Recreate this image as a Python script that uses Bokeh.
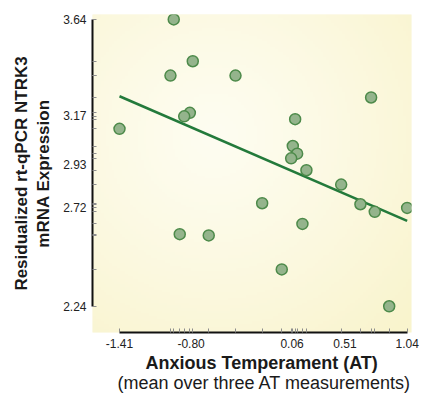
import numpy as np
from bokeh.plotting import figure
from bokeh.models import Range1d, FixedTicker, PrintfTickFormatter, LinearAxis, Title
from bokeh.embed import file_html
from bokeh.resources import INLINE

# ---- data ----
at_scores = [-0.948, -0.786, -0.976, -0.811, -0.859, -1.41, -0.422, 0.733,
             0.086, 0.066, 0.103, 0.052, 0.182, 0.478, -0.195, 0.642,
             0.764, 1.04, 0.148, -0.650, -0.028, 0.887, -0.897]
ntrk3_expr = [3.64, 3.436, 3.366, 3.184, 3.167, 3.106, 3.366, 3.259,
              3.153, 3.022, 2.985, 2.962, 2.904, 2.834, 2.743, 2.738,
              2.701, 2.720, 2.642, 2.586, 2.420, 2.24, 2.592]
x_ticks = [-1.41, -0.80, 0.06, 0.51, 1.04]
y_ticks = [2.24, 2.72, 2.93, 3.17, 3.64]
fit_x = [-1.41, 1.04]
fit_y = [3.265, 2.657]
x_title = ["Anxious Temperament (AT)", "(mean over three AT measurements)"]
y_title = ["Residualized rt-qPCR NTRK3", "mRNA Expression"]

x0, x1 = -1.640, 1.077
y0, y1 = 2.112, 3.664

p = figure(width=421, height=394, x_range=Range1d(x0, x1), y_range=Range1d(y0, y1),
           output_backend="svg", toolbar_location=None,
           min_border_left=92, min_border_right=10, min_border_top=14, min_border_bottom=61,
           background_fill_color="#fbf8dc", border_fill_color="white",
           outline_line_color=None)
p.grid.visible = False

# subtle radial background shading
ny, nx = 120, 120
gy, gx = np.mgrid[0:1:ny * 1j, 0:1:nx * 1j]
r = np.sqrt(((gx - 0.38) / 0.85) ** 2 + ((gy - 0.62) / 0.85) ** 2)
t = np.clip(r, 0, 1) ** 1.2
inner = np.array([254, 253, 241], dtype=float)
outer = np.array([249, 244, 205], dtype=float)
rgb = inner + (outer - inner) * t[..., None]
img = np.empty((ny, nx), dtype=np.uint32)
view = img.view(dtype=np.uint8).reshape((ny, nx, 4))
view[..., 0:3] = rgb.astype(np.uint8)
view[..., 3] = 255
p.image_rgba(image=[img], x=x0, y=y0, dw=x1 - x0, dh=y1 - y0)

p.line(fit_x, fit_y, line_color="#237a3b", line_width=2.5)
p.scatter(at_scores, ntrk3_expr, size=11, fill_color="#94b48c",
          line_color="#4d8a4a", line_width=1.5)

title_style = dict(axis_label_text_font="Liberation Sans", axis_label_text_color="#1a1a1a",
                   axis_label_text_font_style="bold", axis_label_text_font_size="17px")

for ax, ticks, data in ((p.xaxis[0], x_ticks, at_scores), (p.yaxis[0], y_ticks, ntrk3_expr)):
    ax.ticker = FixedTicker(ticks=ticks, minor_ticks=data)
    ax.bounds = (ticks[0], ticks[-1])
    ax.formatter = PrintfTickFormatter(format="%.2f")
    ax.axis_line_width = 2
    ax.axis_line_color = "#111111"
    ax.major_tick_in = 0
    ax.major_tick_out = 0
    ax.minor_tick_in = 4
    ax.minor_tick_out = 0
    ax.minor_tick_line_color = "#8c8c8c"
    ax.major_label_text_font = "Liberation Sans"
    ax.major_label_text_font_size = "12px"
    ax.major_label_text_color = "#222222"
    ax.update(**title_style)

p.xaxis[0].major_label_standoff = 6
p.yaxis[0].major_label_standoff = 6
p.yaxis[0].axis_label = y_title[1]
p.yaxis[0].axis_label_standoff = 7

# x-axis titles: two lines, bold then regular, placed right of the frame centre
p.add_layout(Title(text=x_title[0], align="left", offset=53, standoff=0,
                   text_font="Liberation Sans", text_font_size="18px",
                   text_font_style="bold", text_color="#1a1a1a"), "below")
p.add_layout(Title(text=x_title[1], align="left", offset=25, standoff=0,
                   vertical_align="top",
                   text_font="Liberation Sans", text_font_size="18px",
                   text_font_style="normal", text_color="#1a1a1a"), "below")

y_title_axis = LinearAxis(ticker=FixedTicker(ticks=[]), axis_label=y_title[0],
                          axis_line_color=None, major_tick_in=0, major_tick_out=0,
                          minor_tick_in=0, minor_tick_out=0, major_label_standoff=0,
                          axis_label_standoff=1, **title_style)
p.add_layout(y_title_axis, "left")

open("out.html", "w").write(file_html(p, INLINE))
